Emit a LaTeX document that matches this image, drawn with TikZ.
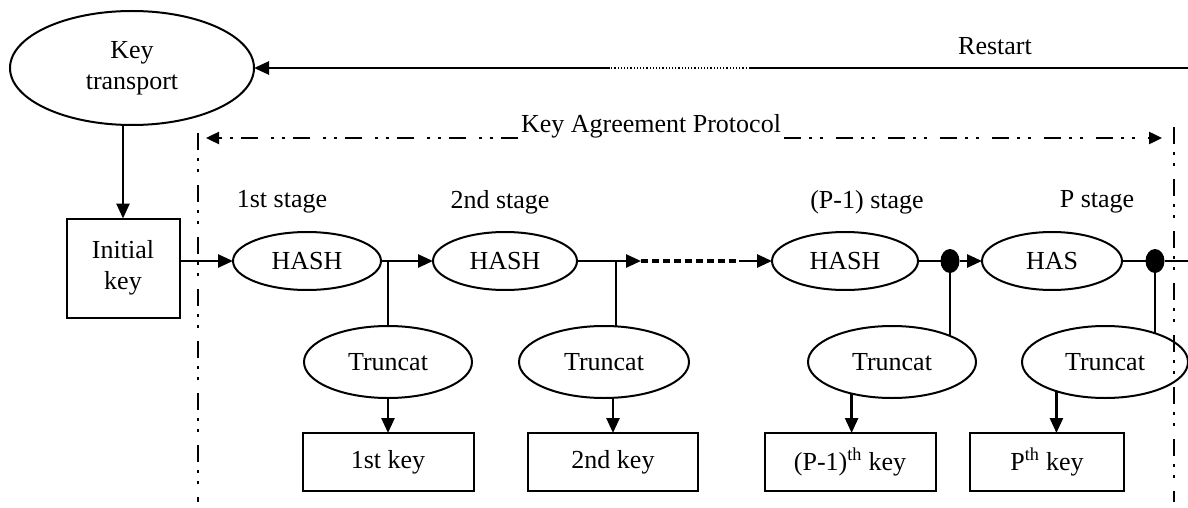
\documentclass[tikz,border=0pt]{standalone}
\usepackage{fontspec}
\setmainfont{Liberation Serif}
\usetikzlibrary{shapes.geometric,arrows.meta}
\begin{document}
\begin{tikzpicture}[x=1pt,y=-1pt,
  font=\fontsize{26}{31}\selectfont,
  every node/.style={inner sep=0pt,outer sep=0pt},
  oval/.style={ellipse,draw,line width=2pt,align=center},
  box/.style={rectangle,draw,line width=2pt,align=center},
  conn/.style={line width=2.6pt},
  thin conn/.style={line width=1.8pt},
  arr/.style={conn,-{Triangle[length=15pt,width=13pt]}},
  dd/.style={line width=2.4pt,dash pattern=on 17pt off 8pt on 3pt off 8pt on 3pt off 13pt},
  ddarr/.style={dd,-{Triangle[length=13pt,width=12pt]}},
  knot/.style={ellipse,fill=black,minimum width=19pt,minimum height=24pt}]
\useasboundingbox (0,0) rectangle (1188,508);

% key transport and restart loop
\node[oval,minimum width=244pt,minimum height=114pt] (kt) at (132,68) {Key\\transport};
\node[box,minimum width=113pt,minimum height=99pt] (ik) at (123,268) {Initial\\key};
\coordinate (re) at (1188,68);
\coordinate (r1) at (750,68);
\coordinate (r2) at (610,68);
\node (rst) at (995,46) {Restart};
\draw[conn] (re) -- (r1);
\draw[line width=1.2pt,dotted] (r1) -- (r2);
\draw[arr] (r2) -- (kt.east);
\draw[arr] (kt.south -| ik.north) -- (ik.north);

% key agreement protocol frame
\coordinate (lA) at (206,138);
\coordinate (rA) at (1162,138);
\node[fill=white,inner sep=3pt] (kap) at (651,126) {Key Agreement Protocol};
\draw[ddarr] (kap.west |- lA) -- (lA);
\draw[ddarr] (kap.east |- rA) -- (rA);
\coordinate (vl1) at (198,133);
\coordinate (vl2) at (198,502);
\coordinate (vr1) at (1174,127);
\coordinate (vr2) at (1174,502);
\draw[dd] (vl1) -- (vl2);
\draw[dd] (vr1) -- (vr2);

% stage labels
\node (s1) at (282,202) {1st stage};
\node (s2) at (500,202) {2nd stage};
\node (s3) at (867,202) {(P-1) stage};
\node (s4) at (1097,202) {P stage};

% hash chain
\node[oval,minimum width=148pt,minimum height=58pt] (h1) at (307,261) {HASH};
\node[oval,minimum width=144pt,minimum height=58pt] (h2) at (505,261) {HASH};
\node[oval,minimum width=146pt,minimum height=58pt] (h3) at (845,261) {HASH};
\node[oval,minimum width=140pt,minimum height=58pt] (h4) at (1052,261) {HAS};
\node[knot] (d1) at (950,261) {};
\node[knot] (d2) at (1155,261) {};

% truncation stages
\node[oval,minimum width=168pt,minimum height=72pt] (t1) at (388,362) {Truncat};
\node[oval,minimum width=170pt,minimum height=72pt] (t2) at (604,362) {Truncat};
\node[oval,minimum width=168pt,minimum height=72pt] (t3) at (892,362) {Truncat};
\node[oval,minimum width=166pt,minimum height=72pt] (t4) at (1105,362) {Truncat};

% derived keys
\node[box,minimum width=171pt,minimum height=58pt] (k1) at (388,462) {1st key};
\node[box,minimum width=170pt,minimum height=58pt] (k2) at (613,462) {2nd key};
\node[box,minimum width=171pt,minimum height=58pt] (k3) at (850,462) {(P-1)\textsuperscript{th} key};
\node[box,minimum width=154pt,minimum height=58pt] (k4) at (1047,462) {P\textsuperscript{th} key};

% chain connectors
\coordinate (b1) at (388,261);
\coordinate (b2) at (616,261);
\coordinate (p1) at (641,261);
\coordinate (p2) at (739,261);
\coordinate (e1) at (1188,261);
\draw[arr] (ik.east |- h1.west) -- (h1.west);
\draw[arr] (h1.east) -- (h2.west);
\draw[conn] (b1) -- (t1.north);
\draw[conn] (h2.east) -- (b2);
\draw[arr] (b2) -- (p1);
\draw[line width=4.5pt,dash pattern=on 7pt off 4pt] (p1) -- (p2);
\draw[arr] (p2) -- (h3.west);
\draw[conn] (b2) -- (b2 |- t2.north);
\draw[conn] (h3.east) -- (d1);
\draw[arr] (d1) -- (h4.west);
\draw[conn] (h4.east) -- (d2) -- (e1);
\draw[thin conn] (d1) -- (d1 |- t3.26);
\draw[thin conn] (d2) -- (d2 |- t4.30);

% truncation outputs
\draw[arr] (t1.south) -- (t1.south |- k1.north);
\draw[arr] (t2.south -| k2.north) -- (k2.north);
\draw[arr] (t3.218) -- (t3.218 |- k3.north);
\draw[arr] (t4.211) -- (t4.211 |- k4.north);
\end{tikzpicture}
\end{document}
